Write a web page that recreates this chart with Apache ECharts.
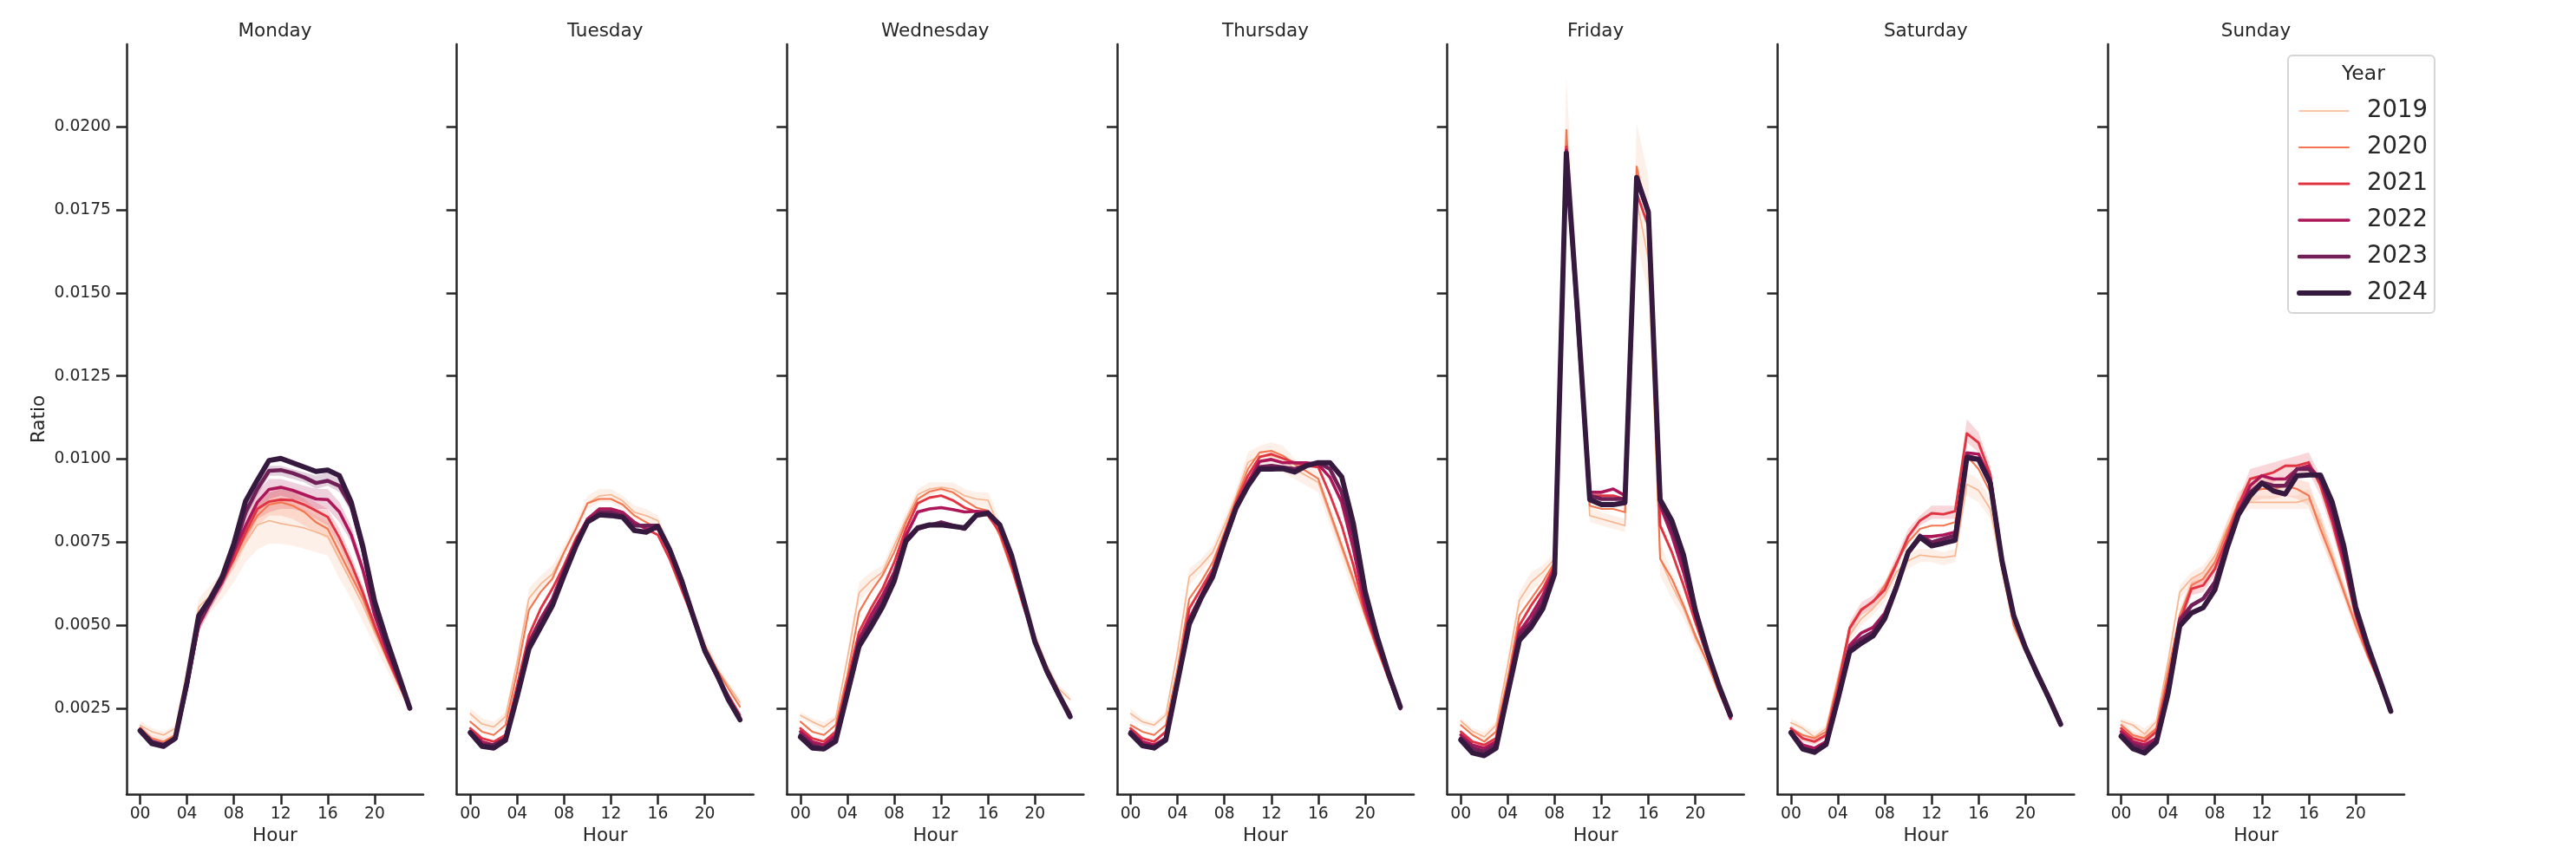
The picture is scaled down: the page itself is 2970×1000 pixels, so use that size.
<!DOCTYPE html>
<html><head><meta charset="utf-8">
<script src="https://cdn.jsdelivr.net/npm/echarts@6/dist/echarts.min.js"></script>
<style>html,body{margin:0;padding:0;background:#fff}#chart{width:2970px;height:1000px}</style>
</head><body><div id="chart"></div><script>
// ---------- data ----------
const hours = [0,1,2,3,4,5,6,7,8,9,10,11,12,13,14,15,16,17,18,19,20,21,22,23];
const days = ['Monday','Tuesday','Wednesday','Thursday','Friday','Saturday','Sunday'];
const years = ['2019','2020','2021','2022','2023','2024'];
const xTickValues = [0,4,8,12,16,20];
const xTickLabels = ['00','04','08','12','16','20'];
const yTickValues = [0.0025,0.0050,0.0075,0.0100,0.0125,0.0150,0.0175,0.0200];
const yTickLabels = ['0.0025','0.0050','0.0075','0.0100','0.0125','0.0150','0.0175','0.0200'];

const mon2019 = [0.00199,0.0018,0.0017,0.0019,0.0036,0.00555,0.0059,0.0063,0.0069,0.0075,0.00802,0.00815,0.00806,0.0080,0.00793,0.0078,0.00767,0.0070,0.0063,0.0056,0.0048,0.0040,0.0032,0.0025];
const mon2020 = [0.0019,0.0016,0.0015,0.0017,0.0033,0.0051,0.0058,0.0064,0.0070,0.0077,0.0083,0.00863,0.0087,0.0086,0.00841,0.0081,0.0079,0.0072,0.0065,0.0058,0.0049,0.0041,0.0033,0.0025];
const mon2021 = [0.0019,0.0015,0.0014,0.0016,0.0032,0.0050,0.0057,0.0063,0.0070,0.0078,0.0085,0.00872,0.00878,0.00876,0.00863,0.00845,0.00826,0.00763,0.00685,0.00598,0.0050,0.0041,0.0033,0.0025];
const mon2022 = [0.0018,0.0015,0.0014,0.0016,0.0032,0.0050,0.0057,0.0063,0.0072,0.0080,0.0087,0.00909,0.00915,0.00906,0.00893,0.0088,0.00878,0.00841,0.00772,0.00667,0.0053,0.0043,0.0034,0.0025];
const mon2023 = [0.00185,0.0015,0.0014,0.0016,0.0032,0.0051,0.0057,0.0064,0.0073,0.0084,0.0091,0.00965,0.00967,0.00958,0.00945,0.00928,0.00935,0.00919,0.00858,0.00728,0.0055,0.0044,0.0035,0.0025];
const mon2024 = [0.00183,0.00144,0.00136,0.0016,0.00329,0.00529,0.00581,0.00646,0.00746,0.00874,0.00937,0.00996,0.01002,0.00989,0.00976,0.00963,0.00967,0.0095,0.00871,0.00737,0.00572,0.00459,0.00355,0.00251];

const tue2019 = [0.00234,0.00203,0.00194,0.00225,0.0039,0.00581,0.00624,0.00654,0.0072,0.0079,0.00867,0.00889,0.00893,0.00874,0.0084,0.0083,0.00815,0.0073,0.0064,0.0054,0.0044,0.0037,0.0032,0.00268];
const tue2020 = [0.0021,0.0018,0.0017,0.0020,0.0036,0.00546,0.0060,0.0064,0.0072,0.0079,0.00867,0.0088,0.0088,0.00863,0.0083,0.0081,0.0079,0.0072,0.0063,0.0054,0.0044,0.0037,0.0031,0.00255];
const tue2021 = [0.0019,0.0016,0.0015,0.0017,0.0032,0.0047,0.0055,0.0061,0.0068,0.0076,0.0082,0.0085,0.0085,0.0084,0.0081,0.0079,0.00772,0.0070,0.0061,0.0052,0.0042,0.0035,0.0029,0.0023];
const tue2022 = [0.0018,0.0015,0.0014,0.0016,0.0030,0.0045,0.0052,0.0058,0.0067,0.0075,0.0082,0.0085,0.0085,0.0084,0.0081,0.0079,0.0079,0.0072,0.0063,0.0052,0.0042,0.0035,0.0028,0.0022];
const tue2023 = [0.0018,0.0014,0.0014,0.0016,0.0029,0.0044,0.0051,0.0057,0.0066,0.0074,0.0081,0.0084,0.0084,0.0083,0.0080,0.0080,0.0080,0.0073,0.0064,0.0053,0.0042,0.0035,0.0028,0.0022];
const tue2024 = [0.00177,0.00136,0.00131,0.00154,0.00286,0.00429,0.00494,0.00559,0.0065,0.00737,0.00811,0.00832,0.0083,0.00825,0.00785,0.0078,0.00798,0.00728,0.00637,0.00529,0.00424,0.00355,0.00277,0.00216];

const wed2019 = [0.00229,0.0021,0.00194,0.0022,0.0040,0.00598,0.00633,0.0066,0.0074,0.0082,0.00893,0.0091,0.00915,0.0091,0.0089,0.0088,0.00876,0.0079,0.0068,0.0057,0.0047,0.0038,0.0031,0.00277];
const wed2020 = [0.0021,0.0018,0.0017,0.0020,0.0035,0.0054,0.0060,0.0065,0.0072,0.0081,0.0088,0.00902,0.0091,0.0090,0.00876,0.00854,0.00845,0.0077,0.0067,0.0056,0.0046,0.0037,0.0030,0.0024];
const wed2021 = [0.0019,0.0016,0.0015,0.0018,0.0033,0.0048,0.0055,0.0061,0.0069,0.0079,0.00867,0.00884,0.0089,0.00876,0.00854,0.00841,0.0083,0.0078,0.0068,0.0056,0.0045,0.0036,0.0029,0.0023];
const wed2022 = [0.0018,0.0015,0.0014,0.0017,0.0031,0.0046,0.0053,0.0059,0.0066,0.0077,0.00841,0.0085,0.00854,0.00848,0.00841,0.00843,0.00841,0.0080,0.0070,0.0058,0.0045,0.0036,0.0029,0.0023];
const wed2023 = [0.0017,0.0014,0.0013,0.0016,0.0030,0.0045,0.0051,0.0057,0.0065,0.0075,0.0079,0.0080,0.0081,0.0080,0.0079,0.0083,0.0084,0.0080,0.0071,0.0058,0.0045,0.0036,0.0029,0.0023];
const wed2024 = [0.00164,0.00131,0.00128,0.00151,0.00294,0.00437,0.00494,0.00555,0.00633,0.00754,0.00793,0.00802,0.00802,0.00798,0.00793,0.00831,0.00837,0.00802,0.00711,0.00581,0.0045,0.00364,0.00294,0.00225];

const thu2019 = [0.00234,0.0021,0.0020,0.0023,0.0042,0.00646,0.0068,0.0072,0.0080,0.0089,0.0099,0.0101,0.0101,0.0100,0.0097,0.0095,0.0093,0.0083,0.0073,0.0063,0.0053,0.0043,0.0034,0.0027];
const thu2020 = [0.0020,0.0018,0.0017,0.0020,0.0037,0.0058,0.0063,0.0069,0.0078,0.0088,0.0097,0.0102,0.01025,0.0101,0.00984,0.00963,0.00941,0.00841,0.0074,0.0064,0.0053,0.0043,0.0034,0.0026];
const thu2021 = [0.0019,0.0016,0.0015,0.0018,0.0034,0.0055,0.0061,0.0067,0.0077,0.0087,0.0095,0.01006,0.01015,0.01002,0.00989,0.0098,0.00976,0.00893,0.0080,0.0068,0.0054,0.0044,0.0034,0.0025];
const thu2022 = [0.0018,0.0015,0.0014,0.0016,0.0033,0.0052,0.0059,0.0066,0.0076,0.0086,0.0093,0.00993,0.00999,0.00989,0.00989,0.00989,0.00984,0.00945,0.0087,0.0073,0.0056,0.0045,0.0035,0.0025];
const thu2023 = [0.0018,0.0014,0.0013,0.0016,0.0033,0.0051,0.0058,0.0065,0.0075,0.0085,0.0092,0.00976,0.0098,0.00975,0.0097,0.0098,0.0099,0.0097,0.0090,0.0077,0.0059,0.0046,0.0035,0.0025];
const thu2024 = [0.00174,0.00138,0.00131,0.00155,0.00329,0.00503,0.00581,0.00646,0.00754,0.00854,0.00919,0.0097,0.0097,0.00971,0.00961,0.0098,0.00989,0.00989,0.00947,0.00806,0.00602,0.00468,0.00355,0.00255];

const fri2019 = [0.00212,0.00181,0.00164,0.00199,0.0038,0.00576,0.0063,0.0066,0.0070,0.0195,0.0139,0.0083,0.0082,0.0081,0.0080,0.0178,0.0160,0.0070,0.0062,0.0055,0.0046,0.0039,0.0030,0.0022];
const fri2020 = [0.0020,0.0017,0.0015,0.0018,0.0034,0.0053,0.0058,0.0063,0.0069,0.0199,0.0142,0.0086,0.0085,0.0085,0.0084,0.0188,0.0172,0.0070,0.0064,0.0056,0.0047,0.0039,0.0030,0.0022];
const fri2021 = [0.0018,0.0015,0.0014,0.0016,0.0032,0.0050,0.0056,0.0061,0.0068,0.0194,0.0141,0.0089,0.0089,0.0089,0.0088,0.0180,0.0170,0.0080,0.0072,0.0062,0.0051,0.0041,0.0031,0.0022];
const fri2022 = [0.0017,0.0014,0.0013,0.0015,0.0031,0.0048,0.0053,0.0059,0.0067,0.0193,0.0141,0.0090,0.0090,0.0091,0.0089,0.0185,0.0175,0.0086,0.0077,0.0066,0.0053,0.0042,0.0031,0.0022];
const fri2023 = [0.0016,0.0013,0.0012,0.0014,0.0030,0.0047,0.0051,0.0057,0.0066,0.0192,0.0140,0.0089,0.0088,0.0088,0.0088,0.0184,0.0174,0.0087,0.0079,0.0069,0.0054,0.0042,0.0032,0.0023];
const fri2024 = [0.00155,0.00116,0.00108,0.0013,0.00294,0.00455,0.00494,0.0055,0.00654,0.0192,0.0142,0.00878,0.00863,0.00863,0.00869,0.01847,0.01743,0.00878,0.00815,0.00711,0.00546,0.00424,0.0032,0.00229];

const sat2019 = [0.00207,0.0019,0.00164,0.0019,0.0034,0.0047,0.0052,0.0055,0.0059,0.0066,0.00694,0.00711,0.00707,0.00704,0.00709,0.00924,0.00906,0.0085,0.0067,0.0050,0.0042,0.0035,0.0028,0.0021];
const sat2020 = [0.0019,0.0017,0.0016,0.0018,0.0033,0.00494,0.0055,0.0057,0.0062,0.0069,0.0075,0.0079,0.0080,0.0080,0.0081,0.0101,0.0097,0.0090,0.0067,0.0050,0.0042,0.0035,0.0028,0.0021];
const sat2021 = [0.0019,0.0016,0.0015,0.0017,0.0031,0.0049,0.00546,0.00572,0.00607,0.00685,0.00767,0.00815,0.00837,0.00834,0.00843,0.01077,0.01049,0.00954,0.0070,0.0053,0.0044,0.0036,0.0029,0.0021];
const sat2022 = [0.0018,0.0014,0.0013,0.0015,0.0029,0.0044,0.00477,0.00494,0.00537,0.0062,0.0072,0.00767,0.00767,0.00772,0.0078,0.01019,0.01015,0.0094,0.0070,0.0053,0.0043,0.0035,0.0028,0.0020];
const sat2023 = [0.0018,0.0013,0.0012,0.0014,0.0028,0.0043,0.0046,0.0048,0.0053,0.0062,0.0072,0.0077,0.0075,0.0076,0.0077,0.0101,0.0100,0.0093,0.0069,0.0053,0.0043,0.0035,0.0028,0.0020];
const sat2024 = [0.00177,0.00128,0.00118,0.00142,0.00277,0.0042,0.00446,0.00468,0.0052,0.00615,0.0072,0.00765,0.00739,0.00747,0.00756,0.01004,0.00999,0.00928,0.00694,0.00529,0.00433,0.00355,0.00281,0.00203];

const sun2019 = [0.00212,0.0020,0.00173,0.0021,0.0039,0.0060,0.0064,0.0066,0.0071,0.0079,0.0085,0.0087,0.0087,0.0087,0.0087,0.0087,0.0088,0.0081,0.0071,0.0061,0.0051,0.0042,0.0033,0.0025];
const sun2020 = [0.0020,0.0017,0.0016,0.0019,0.0036,0.0053,0.0062,0.0064,0.0069,0.0078,0.0087,0.0090,0.0091,0.0091,0.0092,0.0091,0.0089,0.0079,0.0070,0.0060,0.0050,0.0041,0.0033,0.0025];
const sun2021 = [0.0019,0.0016,0.0015,0.0018,0.0033,0.0051,0.0061,0.0062,0.0067,0.0076,0.0086,0.0094,0.0095,0.0096,0.0098,0.0098,0.0099,0.0092,0.0081,0.0068,0.0053,0.0042,0.0033,0.0024];
const sun2022 = [0.0018,0.0015,0.0014,0.0016,0.0031,0.0052,0.0056,0.0058,0.0063,0.0074,0.0084,0.0092,0.0095,0.0094,0.0094,0.0097,0.0098,0.0094,0.0083,0.0070,0.0054,0.0043,0.0034,0.0024];
const sun2023 = [0.0017,0.0014,0.0013,0.0015,0.0030,0.0051,0.0056,0.0058,0.0063,0.0074,0.0084,0.0090,0.0093,0.0092,0.0092,0.0097,0.0097,0.0094,0.0085,0.0072,0.0055,0.0044,0.0034,0.0024];
const sun2024 = [0.00166,0.00129,0.00116,0.00148,0.00294,0.00498,0.00537,0.00553,0.00607,0.00728,0.00832,0.00889,0.00928,0.00904,0.00895,0.0095,0.00952,0.00952,0.00871,0.00737,0.00555,0.00442,0.00342,0.00242];

// confidence bands (lower / upper)
const mon2019Lo = [0.00185,0.0017,0.0016,0.0018,0.0033,0.0050,0.0054,0.0058,0.0063,0.0069,0.00728,0.00746,0.00745,0.0074,0.0073,0.0072,0.0071,0.0064,0.0058,0.0051,0.0044,0.0037,0.0030,0.0024];
const mon2019Hi = [0.00213,0.0019,0.0018,0.0020,0.0039,0.0058,0.0062,0.0066,0.0073,0.0080,0.0085,0.0088,0.0088,0.0087,0.0085,0.0083,0.0081,0.0075,0.0068,0.0060,0.0052,0.0043,0.0034,0.0026];
const mon2020Lo = [0.0018,0.0015,0.0014,0.0016,0.0031,0.0049,0.0056,0.0062,0.0067,0.0074,0.0080,0.0083,0.0083,0.0082,0.0080,0.0078,0.0076,0.0069,0.0063,0.0056,0.0047,0.0040,0.0032,0.0024];
const mon2020Hi = [0.0020,0.0017,0.0016,0.0018,0.0035,0.0053,0.0060,0.0066,0.0073,0.0080,0.0086,0.0090,0.0091,0.0090,0.0088,0.0085,0.0082,0.0075,0.0067,0.0060,0.0051,0.0042,0.0034,0.0026];
const mon2021Lo = [0.0018,0.0014,0.0013,0.0015,0.0030,0.0048,0.0055,0.0061,0.0068,0.0075,0.0082,0.0084,0.0085,0.0085,0.0084,0.0082,0.0080,0.0074,0.0066,0.0058,0.0049,0.0040,0.0032,0.0024];
const mon2021Hi = [0.0020,0.0016,0.0015,0.0017,0.0034,0.0052,0.0059,0.0065,0.0072,0.0081,0.0088,0.0090,0.0091,0.0090,0.0089,0.0087,0.0085,0.0079,0.0071,0.0062,0.0051,0.0042,0.0034,0.0026];
const mon2022Lo = [0.0017,0.0014,0.0013,0.0015,0.0030,0.0048,0.0055,0.0061,0.0069,0.0077,0.0084,0.0088,0.0089,0.0088,0.0087,0.0085,0.0085,0.0081,0.0075,0.0065,0.0052,0.0042,0.0033,0.0024];
const mon2022Hi = [0.0019,0.0016,0.0015,0.0017,0.0034,0.0052,0.0059,0.0065,0.0075,0.0083,0.0090,0.0094,0.0094,0.0093,0.0092,0.0091,0.0091,0.0087,0.0080,0.0069,0.0054,0.0044,0.0035,0.0026];
const mon2023Lo = [0.0018,0.0014,0.0013,0.0015,0.0031,0.0050,0.0056,0.0063,0.0071,0.0082,0.0089,0.0095,0.0095,0.0094,0.0093,0.0091,0.0092,0.0090,0.0084,0.0071,0.0054,0.0043,0.0034,0.0024];
const mon2023Hi = [0.0019,0.0016,0.0015,0.0017,0.0033,0.0052,0.0058,0.0065,0.0075,0.0086,0.0093,0.0098,0.0098,0.0097,0.0096,0.0095,0.0096,0.0094,0.0088,0.0075,0.0056,0.0045,0.0036,0.0026];
const tue2019Lo = [0.0022,0.0019,0.0018,0.0021,0.0037,0.0055,0.0060,0.0063,0.0070,0.0077,0.0085,0.0087,0.0087,0.0085,0.0082,0.0081,0.0080,0.0071,0.0062,0.0052,0.0043,0.0036,0.0031,0.0026];
const tue2019Hi = [0.0025,0.0022,0.0021,0.0024,0.0041,0.0061,0.0065,0.0068,0.0074,0.0081,0.0089,0.0091,0.0091,0.0089,0.0086,0.0085,0.0083,0.0075,0.0066,0.0056,0.0046,0.0039,0.0033,0.0028];
const wed2019Lo = [0.0022,0.0020,0.0018,0.0021,0.0038,0.0057,0.0061,0.0064,0.0072,0.0080,0.0087,0.0089,0.0090,0.0089,0.0087,0.0086,0.0085,0.0076,0.0066,0.0055,0.0045,0.0037,0.0030,0.0027];
const wed2019Hi = [0.0024,0.0022,0.0021,0.0023,0.0042,0.0063,0.0066,0.0068,0.0076,0.0084,0.0091,0.0093,0.0093,0.0093,0.0091,0.0090,0.0090,0.0082,0.0070,0.0059,0.0049,0.0039,0.0032,0.0029];
const thu2019Lo = [0.0022,0.0020,0.0019,0.0022,0.0040,0.0062,0.0066,0.0070,0.0078,0.0087,0.0096,0.0097,0.0097,0.0096,0.0094,0.0092,0.0090,0.0080,0.0070,0.0060,0.0051,0.0042,0.0033,0.0026];
const thu2019Hi = [0.0025,0.0022,0.0021,0.0024,0.0044,0.0067,0.0070,0.0074,0.0082,0.0091,0.0102,0.0104,0.0105,0.0104,0.0100,0.0098,0.0096,0.0086,0.0076,0.0066,0.0055,0.0045,0.0035,0.0028];
const fri2019Lo = [0.0020,0.0017,0.0015,0.0019,0.0036,0.0055,0.0060,0.0064,0.0068,0.0180,0.0130,0.0081,0.0080,0.0079,0.0078,0.0165,0.0150,0.0065,0.0058,0.0052,0.0044,0.0037,0.0029,0.0021];
const fri2019Hi = [0.0022,0.0019,0.0018,0.0021,0.0040,0.0060,0.0066,0.0068,0.0072,0.0215,0.0150,0.0086,0.0084,0.0083,0.0082,0.0201,0.0185,0.0075,0.0066,0.0058,0.0048,0.0041,0.0031,0.0023];
const sat2019Lo = [0.0020,0.0018,0.0015,0.0018,0.0032,0.0045,0.0050,0.0053,0.0057,0.0064,0.0067,0.0069,0.0069,0.0068,0.0069,0.0089,0.0087,0.0082,0.0064,0.0048,0.0041,0.0034,0.0027,0.0020];
const sat2019Hi = [0.0022,0.0020,0.0018,0.0020,0.0036,0.0049,0.0054,0.0057,0.0061,0.0068,0.0072,0.0073,0.0073,0.0072,0.0073,0.0096,0.0094,0.0088,0.0070,0.0052,0.0043,0.0036,0.0029,0.0022];
const sat2021Lo = [0.0018,0.0015,0.0014,0.0016,0.0030,0.0047,0.0053,0.0055,0.0059,0.0067,0.0075,0.0080,0.0082,0.0082,0.0082,0.0105,0.0102,0.0093,0.0068,0.0052,0.0043,0.0035,0.0028,0.0020];
const sat2021Hi = [0.0020,0.0017,0.0016,0.0018,0.0032,0.0051,0.0057,0.0059,0.0063,0.0071,0.0079,0.0083,0.0086,0.0086,0.0086,0.0112,0.0108,0.0098,0.0072,0.0055,0.0045,0.0037,0.0030,0.0022];
const sun2019Lo = [0.0020,0.0019,0.0016,0.0020,0.0037,0.0058,0.0062,0.0064,0.0069,0.0077,0.0083,0.0085,0.0085,0.0085,0.0085,0.0085,0.0085,0.0078,0.0068,0.0059,0.0049,0.0041,0.0032,0.0024];
const sun2019Hi = [0.0022,0.0021,0.0019,0.0022,0.0041,0.0062,0.0066,0.0068,0.0073,0.0081,0.0087,0.0089,0.0089,0.0089,0.0089,0.0089,0.0091,0.0084,0.0074,0.0063,0.0053,0.0043,0.0034,0.0026];
const sun2020Lo = [0.0019,0.0016,0.0015,0.0018,0.0034,0.0051,0.0060,0.0062,0.0067,0.0075,0.0084,0.0087,0.0088,0.0088,0.0089,0.0088,0.0086,0.0076,0.0067,0.0058,0.0048,0.0040,0.0032,0.0024];
const sun2020Hi = [0.0021,0.0018,0.0017,0.0020,0.0038,0.0055,0.0064,0.0066,0.0071,0.0081,0.0090,0.0093,0.0094,0.0094,0.0095,0.0094,0.0093,0.0083,0.0073,0.0062,0.0052,0.0042,0.0034,0.0026];
const sun2021Lo = [0.0018,0.0015,0.0014,0.0017,0.0031,0.0049,0.0059,0.0060,0.0065,0.0074,0.0084,0.0091,0.0092,0.0093,0.0095,0.0095,0.0096,0.0089,0.0078,0.0066,0.0051,0.0041,0.0032,0.0023];
const sun2021Hi = [0.0020,0.0017,0.0016,0.0019,0.0035,0.0053,0.0063,0.0064,0.0069,0.0078,0.0088,0.0097,0.0098,0.0099,0.0100,0.0101,0.0102,0.0095,0.0084,0.0070,0.0055,0.0043,0.0034,0.0025];

// ---------- assembly tables ----------
const lineTable = [
  [mon2019,mon2020,mon2021,mon2022,mon2023,mon2024],
  [tue2019,tue2020,tue2021,tue2022,tue2023,tue2024],
  [wed2019,wed2020,wed2021,wed2022,wed2023,wed2024],
  [thu2019,thu2020,thu2021,thu2022,thu2023,thu2024],
  [fri2019,fri2020,fri2021,fri2022,fri2023,fri2024],
  [sat2019,sat2020,sat2021,sat2022,sat2023,sat2024],
  [sun2019,sun2020,sun2021,sun2022,sun2023,sun2024]
];
const bandTable = [
  [0,0,mon2019Lo,mon2019Hi],[0,1,mon2020Lo,mon2020Hi],[0,2,mon2021Lo,mon2021Hi],
  [0,3,mon2022Lo,mon2022Hi],[0,4,mon2023Lo,mon2023Hi],
  [1,0,tue2019Lo,tue2019Hi],[2,0,wed2019Lo,wed2019Hi],[3,0,thu2019Lo,thu2019Hi],
  [4,0,fri2019Lo,fri2019Hi],[5,0,sat2019Lo,sat2019Hi],[5,2,sat2021Lo,sat2021Hi],
  [6,0,sun2019Lo,sun2019Hi],[6,1,sun2020Lo,sun2020Hi],[6,2,sun2021Lo,sun2021Hi]
];

// ---------- style ----------
const colors = ['#f6b48f','#f37651','#e13342','#ad1759','#701f57','#35193e'];
const widths = [1.6,2.1,2.9,3.6,4.5,5.9];
const INK = '#262626';
const FONT = 'DejaVu Sans';
const PANEL_LEFT0 = 146, PANEL_STEP = 380.67, PANEL_W = 342, PANEL_TOP = 51, PANEL_H = 865;
const Y_MIN = -0.00008, Y_MAX = 0.02248, X_MIN = -1.15, X_MAX = 24.15;

const grids = [], xAxes = [], yAxes = [], series = [], graphics = [];
days.forEach((day, d) => {
  const left = PANEL_LEFT0 + d * PANEL_STEP;
  grids.push({left: left, top: PANEL_TOP, width: PANEL_W, height: PANEL_H, containLabel: false});
  xAxes.push({
    type: 'value', gridIndex: d, min: X_MIN, max: X_MAX,
    axisLine: {show: true, onZero: false, lineStyle: {color: INK, width: 2.5}},
    axisTick: {show: true, length: 12, lineStyle: {color: INK, width: 2.5}, customValues: xTickValues},
    axisLabel: {show: true, margin: 14, color: INK, fontSize: 18.7, fontFamily: FONT,
      customValues: xTickValues,
      formatter: v => xTickLabels[xTickValues.indexOf(v)]},
    splitLine: {show: false},
    name: 'Hour', nameLocation: 'middle', nameGap: 33,
    nameTextStyle: {color: INK, fontSize: 21.5, fontFamily: FONT}
  });
  yAxes.push({
    type: 'value', gridIndex: d, min: Y_MIN, max: Y_MAX,
    axisLine: {show: true, onZero: false, lineStyle: {color: INK, width: 2.5}},
    axisTick: {show: true, length: 12, lineStyle: {color: INK, width: 2.5}, customValues: yTickValues},
    axisLabel: {show: d === 0, margin: 18, color: INK, fontSize: 18.7, fontFamily: FONT,
      customValues: yTickValues,
      formatter: v => { const i = yTickValues.findIndex(t => Math.abs(t - v) < 1e-9); return i >= 0 ? yTickLabels[i] : ''; }},
    splitLine: {show: false},
    name: d === 0 ? 'Ratio' : '', nameLocation: 'middle', nameGap: 90, nameRotate: 90,
    nameTextStyle: {color: INK, fontSize: 21.5, fontFamily: FONT}
  });
  graphics.push({type: 'text', x: left + PANEL_W / 2, y: 36, silent: true,
    style: {text: day, fill: INK, font: '21.5px "DejaVu Sans"', fontSize: 21.5, fontFamily: FONT,
      textAlign: 'center', textVerticalAlign: 'middle', align: 'center', verticalAlign: 'middle'}});

  years.forEach((yr, y) => {
    bandTable.filter(b => b[0] === d && b[1] === y).forEach(b => {
      const lo = b[2], hi = b[3];
      series.push({
        type: 'custom', name: yr + ' CI', xAxisIndex: d, yAxisIndex: d, silent: true,
        data: hours.map((h, i) => [h, lo[i], hi[i]]),
        encode: {x: 0, y: [1, 2]},
        renderItem: (params, api) => {
          if (params.dataIndex !== 0) return null;
          const pts = [];
          for (let i = 0; i < hours.length; i++) pts.push(api.coord([hours[i], hi[i]]));
          for (let i = hours.length - 1; i >= 0; i--) pts.push(api.coord([hours[i], lo[i]]));
          return {type: 'polygon', shape: {points: pts}, style: {fill: colors[y], opacity: 0.2}};
        }
      });
    });
    const vals = lineTable[d][y];
    series.push({
      type: 'line', name: yr, xAxisIndex: d, yAxisIndex: d,
      data: hours.map((h, i) => [h, vals[i]]),
      showSymbol: false, symbol: 'none', smooth: false, silent: true,
      lineStyle: {color: colors[y], width: widths[y], cap: 'round', join: 'round'},
      itemStyle: {color: colors[y]},
      emphasis: {disabled: true}
    });
  });
});

graphics.push({type: 'text', x: 2725, y: 86, silent: true, z: 100,
  style: {text: 'Year', fill: INK, font: '23.5px "DejaVu Sans"', fontSize: 23.5, fontFamily: FONT,
    textAlign: 'center', textVerticalAlign: 'middle', align: 'center', verticalAlign: 'middle'}});

const option = {
  backgroundColor: '#ffffff',
  animation: false,
  grid: grids, xAxis: xAxes, yAxis: yAxes, series: series,
  legend: {
    show: true, orient: 'vertical', left: 2638, top: 64,
    padding: [50, 8, 9, 10],
    backgroundColor: '#ffffff', borderColor: '#d5d5d5', borderWidth: 2, borderRadius: 5,
    itemWidth: 57, itemHeight: 14, itemGap: 14, selectedMode: false,
    textStyle: {color: INK, fontSize: 27.5, fontFamily: FONT, padding: [0, 0, 0, 16]},
    data: years.map((yr, y) => ({name: yr, itemStyle: {opacity: 0},
      lineStyle: {width: widths[y], color: colors[y], cap: 'round'}}))
  },
  graphic: {elements: graphics}
};
const chart = echarts.init(document.getElementById('chart'), null, {renderer: 'canvas', width: 2970, height: 1000});
chart.setOption(option);
</script></body></html>
